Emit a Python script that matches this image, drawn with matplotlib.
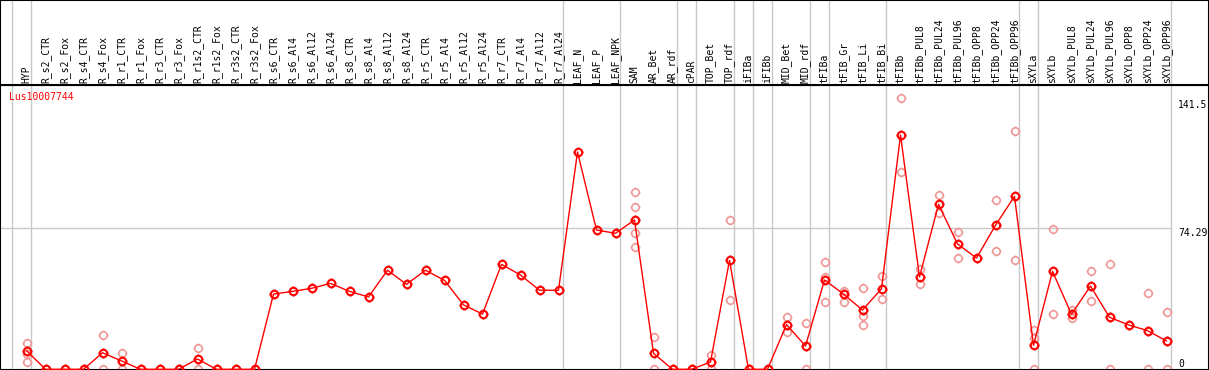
import matplotlib
matplotlib.use('Agg')
import matplotlib.pyplot as plt
from matplotlib.path import Path

# categories (one column each)
categories = [
    'HYP', 'R_s2_CTR', 'R_s2_Fox', 'R_s4_CTR', 'R_s4_Fox', 'R_r1_CTR', 'R_r1_Fox',
    'R_r3_CTR', 'R_r3_Fox', 'R_r1s2_CTR', 'R_r1s2_Fox', 'R_r3s2_CTR', 'R_r3s2_Fox',
    'R_s6_CTR', 'R_s6_Al4', 'R_s6_Al12', 'R_s6_Al24', 'R_s8_CTR', 'R_s8_Al4',
    'R_s8_Al12', 'R_s8_Al24', 'R_r5_CTR', 'R_r5_Al4', 'R_r5_Al12', 'R_r5_Al24',
    'R_r7_CTR', 'R_r7_Al4', 'R_r7_Al12', 'R_r7_Al24', 'LEAF_N', 'LEAF_P', 'LEAF_NPK',
    'SAM', 'AR_Bet', 'AR_rdf', 'cPAR', 'TOP_Bet', 'TOP_rdf', 'iFIBa', 'iFIBb',
    'MID_Bet', 'MID_rdf', 'tFIBa', 'tFIB_Gr', 'tFIB_Li', 'tFIB_Bi', 'tFIBb',
    'tFIBb_PUL8', 'tFIBb_PUL24', 'tFIBb_PUL96', 'tFIBb_OPP8', 'tFIBb_OPP24',
    'tFIBb_OPP96', 'sXYLa', 'sXYLb', 'sXYLb_PUL8', 'sXYLb_PUL24', 'sXYLb_PUL96',
    'sXYLb_OPP8', 'sXYLb_OPP24', 'sXYLb_OPP96',
]

# mean expression per category
means = [
    9.8, 0, 0, 0, 8.7, 4.4, 0, 0, 0, 5.4, 0, 0, 0,
    39.5, 40.9, 42.5, 45.1, 40.9, 38.0, 52.0, 44.6,
    52.0, 46.7, 33.8, 29.0, 55.1, 49.5, 41.5, 41.5,
    114.1, 73.1, 71.4, 78.4, 8.4, 0, 0, 3.8, 57.2, 0, 0,
    23.5, 12.2, 46.9, 39.5, 31.1, 42.3, 123.0,
    48.5, 86.6, 65.8, 58.4, 75.6, 90.8,
    12.6, 51.4, 28.9, 43.7, 27.3, 23.3, 20.3, 14.9,
]

# single replicates (light circles)
replicates = [
    [13.6, 8.0, 3.7], [0], [0], [0], [17.8, 0], [8.4, 0], [0], [0], [0], [11.0, 0], [0], [0], [0],
    [], [], [], [], [], [], [], [],
    [], [], [], [], [], [], [], [],
    [], [], [], [92.9, 85.0, 71.4, 64.4], [17.1, 0], [0], [0], [7.3, 0], [78.2, 36.2], [0], [0],
    [27.3, 19.7], [24.3, 0], [56.5, 48.6, 35.2], [41.1, 35.2], [42.5, 28.0, 23.1], [49.0, 36.7],
    [142.3, 103.4],
    [52.5, 44.6], [91.3, 82.2], [72.2, 58.3], [], [88.7, 61.9], [124.9, 57.4],
    [20.6, 16.6, 0], [73.5, 29.0], [31.1, 26.8], [51.4, 35.9], [55.1, 0], [], [40.1, 0], [29.9, 0],
]

# columns after which a grey separator is drawn
separators = [-1, 0, 28, 31, 34, 35, 37, 38, 39, 41, 42, 45, 52, 53, 60]

gene = 'Lus10007744'
y_ticks = [0, 74.29, 141.5]
y_tick_labels = ['0', '74.29', '141.5']

W, H = 1209, 370
HEAD = 85
font = 'DejaVu Sans Mono'

# circle marker with four small ticks
ticks = Path([(1, 0), (1.3, 0), (-1, 0), (-1.3, 0), (0, 1), (0, 1.3), (0, -1), (0, -1.3)],
             [Path.MOVETO, Path.LINETO] * 4)
marker = Path.make_compound_path(Path.unit_circle(), ticks)

fig = plt.figure(figsize=(W / 100, H / 100), dpi=100)
ax = fig.add_axes([0, 0, 1, (H - HEAD) / H])
hax = fig.add_axes([0, (H - HEAD) / H, 1, HEAD / H], sharex=ax)

x0, dx = 26.5, 19.0
ax.set_xlim(-x0 / dx, (W - x0) / dx)
scale = 1.905
ax.set_ylim((369.3 - H) / scale, (369.3 - HEAD) / scale)
hax.set_ylim(0, 1)

for a in (ax, hax):
    a.set_xticks([])
    a.set_yticks([])
    for s in a.spines.values():
        s.set_color('black')
        s.set_linewidth(1.5)
    for b in separators:
        a.axvline(b + 0.25, color='#c8c8c8', lw=1.0, zorder=0)

ax.hlines(y_ticks[1], ax.get_xlim()[0], separators[-1] + 0.25, color='#c8c8c8', lw=1.0, zorder=0)

xs = list(range(len(categories)))
rx = [i for i, r in enumerate(replicates) for _ in r]
ry = [v for r in replicates for v in r]
ax.plot(rx, ry, linestyle='none', marker=marker, markersize=7, mfc='none',
        mec='#f09898', mew=1.2, zorder=2)
ax.plot(xs, means, color='red', lw=1.0, zorder=3)
ax.plot(xs, means, linestyle='none', marker=marker, markersize=7, mfc='none',
        mec='red', mew=1.5, zorder=4)

for i, name in enumerate(categories):
    hax.text(i, 2 / HEAD, name, rotation=90, ha='center', va='bottom',
             family=font, fontsize=7, color='black')

tx = (1178 - x0) / dx
for v, lab in zip(y_ticks, y_tick_labels):
    ax.text(tx, v, lab, ha='left', va='bottom' if v == 0 else 'top',
            family=font, fontsize=7, color='black', clip_on=False)

ax.annotate(gene, xy=(0, 1), xycoords='axes fraction', xytext=(6.5, -8.6),
            textcoords='offset points', ha='left', va='center',
            family=font, fontsize=7, color='red')

fig.savefig('out.png', dpi=100)
